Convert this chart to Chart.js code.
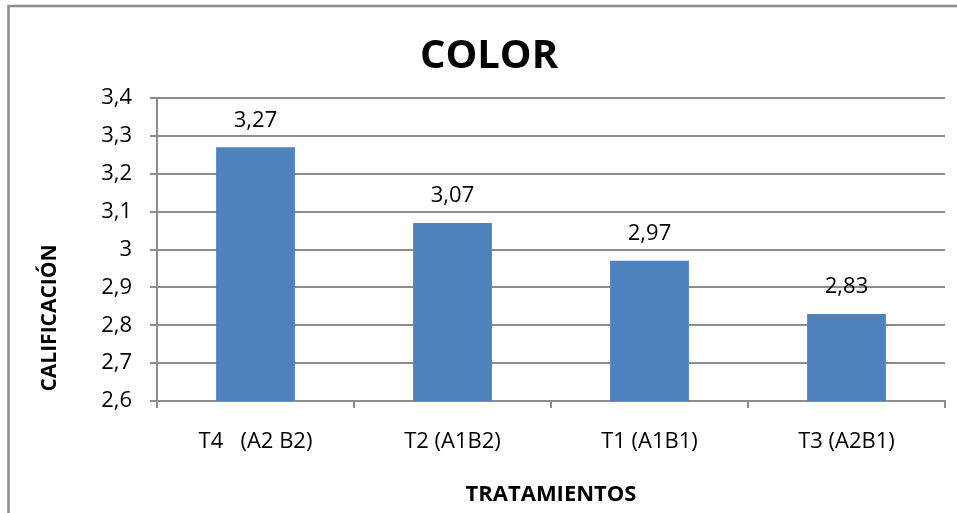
<!DOCTYPE html>
<html>
<head>
<meta charset="utf-8">
<script src="https://cdn.jsdelivr.net/npm/chart.js@4.4.1/dist/chart.umd.min.js"></script>
<style>
  html, body { margin: 0; padding: 0; background: #fff; }
  canvas { display: block; }
</style>
</head>
<body>
<canvas id="colorChart" width="957" height="513"></canvas>
<script>
// data
const categories = ['T4   (A2 B2)', 'T2 (A1B2)', 'T1 (A1B1)', 'T3 (A2B1)'];
const scores = [3.27, 3.07, 2.97, 2.83];
const yMin = 2.6;
const yMax = 3.4;
const yStep = 0.1;

const FONT = '"Open Sans", "Noto Sans", sans-serif';
const GRID = '#8c8c8c';

function comma(v, digits) {
  return Number(v.toFixed(digits)).toString().replace('.', ',');
}

// frame around the chart (only left + top visible in the original crop)
const framePlugin = {
  id: 'frame',
  beforeDraw(chart) {
    const ctx = chart.ctx;
    ctx.save();
    ctx.strokeStyle = '#8c8c8c';
    ctx.lineWidth = 2.5;
    ctx.beginPath();
    ctx.moveTo(8.5, chart.height);
    ctx.lineTo(8.5, 6);
    ctx.lineTo(chart.width, 6);
    ctx.stroke();
    ctx.restore();
  }
};

// value labels above bars, main title, rotated y title
const labelsPlugin = {
  id: 'barLabels',
  afterDatasetsDraw(chart) {
    const ctx = chart.ctx;
    const meta = chart.getDatasetMeta(0);
    ctx.save();
    ctx.fillStyle = '#000';
    ctx.font = '22px ' + FONT;
    ctx.textAlign = 'center';
    ctx.textBaseline = 'middle';
    meta.data.forEach((bar, i) => {
      ctx.fillText(comma(scores[i], 2), bar.x, bar.y - 27);
    });

    // title sits a bit right of the canvas centre in the original
    ctx.font = 'bold 40px ' + FONT;
    ctx.fillText('COLOR', 489, 57);

    ctx.font = 'bold 21px ' + FONT;
    ctx.translate(50, 318);
    ctx.rotate(-Math.PI / 2);
    ctx.fillText('CALIFICACIÓN', 0, 0);
    ctx.restore();
  }
};

new Chart(document.getElementById('colorChart'), {
  type: 'bar',
  data: {
    labels: categories,
    datasets: [{
      data: scores,
      backgroundColor: '#4f81bd',
      categoryPercentage: 1,
      barPercentage: 0.4
    }]
  },
  options: {
    responsive: false,
    animation: false,
    layout: { padding: { left: 0, right: 12, top: 0, bottom: 0 } },
    plugins: {
      legend: { display: false },
      tooltip: { enabled: false },
      // kept only to reserve the space; text drawn by labelsPlugin
      title: {
        display: true,
        text: 'COLOR',
        color: 'rgba(0,0,0,0)',
        font: { family: FONT, size: 40, weight: 'bold', lineHeight: 1.2 },
        padding: { top: 33, bottom: 17 }
      }
    },
    scales: {
      x: {
        afterFit: (scale) => { scale.height = 112; },
        grid: {
          display: true,
          drawOnChartArea: false,
          drawTicks: true,
          tickLength: 7,
          color: GRID,
          lineWidth: 2
        },
        border: { color: GRID, width: 2 },
        ticks: {
          color: '#000',
          padding: 21,
          maxRotation: 0,
          font: { family: FONT, size: 22 }
        },
        title: {
          display: true,
          text: 'TRATAMIENTOS',
          color: '#000',
          font: { family: FONT, size: 22, weight: 'bold', lineHeight: 1.2 },
          padding: { top: 0, bottom: 5 }
        }
      },
      y: {
        min: yMin,
        max: yMax,
        afterFit: (scale) => { scale.width = 157; },
        grid: {
          color: GRID,
          lineWidth: 2,
          tickLength: 7
        },
        border: { color: GRID, width: 2 },
        ticks: {
          stepSize: yStep,
          color: '#000',
          padding: 18,
          font: { family: FONT, size: 22 },
          callback: (v) => comma(v, 1)
        }
      }
    }
  },
  plugins: [framePlugin, labelsPlugin]
});
</script>
</body>
</html>
